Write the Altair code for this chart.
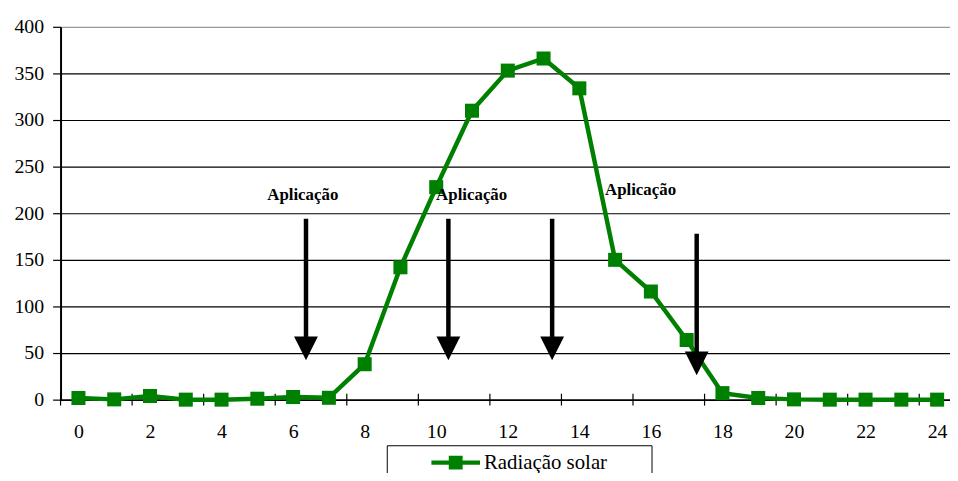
import altair as alt
import pandas as pd

# ---- data ----
horas = list(range(25))
radiacao = [1.8, 0.3, 3.9, 0, 0, 1, 2.8, 2, 38, 142, 228, 310, 353, 366, 334,
            150, 116, 64, 7, 1.8, 0.3, 0, 0, 0, 0]
serie = "Radiação solar"

x_label_values = list(range(0, 25, 2))
x_tick_marks = [-0.5 + 2 * i for i in range(13)]
y_values = list(range(0, 401, 50))

seta_x = [6.36, 10.34, 13.24, 17.28]
seta_topo = [194, 194, 194, 178]
seta_ponta = [55, 55, 55, 39]

rotulo_x = [6.27, 10.99, 15.71]
rotulo_y = [219, 219, 225]
rotulo_texto = ["Aplicação", "Aplicação", "Aplicação"]

FONT = "'Liberation Serif', 'Times New Roman', serif"
GREEN = "#008000"

df = pd.DataFrame({"hora": horas, "rad": radiacao, "serie": [serie] * len(horas)})
df_ticks = pd.DataFrame({"x": x_tick_marks})
df_setas = pd.DataFrame({"x": seta_x, "topo": seta_topo, "ponta": seta_ponta})
df_rot = pd.DataFrame({"x": rotulo_x, "y": rotulo_y, "t": rotulo_texto})

xscale = alt.Scale(domain=[-0.5, 24.36], nice=False, zero=False)
yscale = alt.Scale(domain=[0, 400], nice=False)

x_axis = alt.Axis(values=x_label_values, ticks=False, grid=False, labelPadding=22,
                  labelFontSize=20, labelFont=FONT, labelColor="black",
                  domainColor="black", domainWidth=1.5, title=None)
y_axis = alt.Axis(values=y_values, tickSize=8, tickColor="black", tickWidth=1.2,
                  labelPadding=9, labelFontSize=20, labelFont=FONT, labelColor="black",
                  domainColor="black", domainWidth=2, grid=True,
                  gridColor={"condition": {"test": "datum.value === 400", "value": "#999999"},
                             "value": "black"},
                  gridWidth=1.2, title=None)

base = alt.Chart(df)

linha = base.mark_line(color=GREEN, strokeWidth=4.5).encode(
    x=alt.X("hora:Q", scale=xscale, axis=x_axis),
    y=alt.Y("rad:Q", scale=yscale, axis=y_axis),
)

# wide legend glyph: line with a square in the middle
legend_symbol = ("M-3.5,-0.3H-1V-1H1V-0.3H3.5V0.3H1V1H-1V0.3H-3.5Z")

pontos = base.mark_point(shape="square", filled=True, size=200, opacity=1).encode(
    x=alt.X("hora:Q", scale=xscale),
    y=alt.Y("rad:Q", scale=yscale),
    color=alt.Color("serie:N", scale=alt.Scale(range=[GREEN]),
                    legend=alt.Legend(orient="none", legendX=329, legendY=422,
                                      title="\u00a0", titleOrient="right", titlePadding=38,
                                      titleFontSize=8,
                                      padding=7, strokeColor="black", symbolType=legend_symbol,
                                      symbolSize=196, symbolOffset=52, symbolStrokeWidth=0,
                                      symbolFillColor=GREEN,
                                      labelFont=FONT, labelFontSize=21, labelColor="black",
                                      labelOffset=18)),
)

ticks = alt.Chart(df_ticks).mark_rule(color="black", strokeWidth=1.2).encode(
    x=alt.X("x:Q", scale=xscale),
    y=alt.value(370),
    y2=alt.value(382),
)

setas = alt.Chart(df_setas).mark_rule(color="black", strokeWidth=4.5).encode(
    x=alt.X("x:Q", scale=xscale),
    y=alt.Y("topo:Q", scale=yscale),
    y2="ponta:Q",
)

pontas = alt.Chart(df_setas).mark_point(shape="M-1,-1L1,-1L0,1Z", size=576, filled=True,
                                        color="black", opacity=1).encode(
    x=alt.X("x:Q", scale=xscale),
    y=alt.Y("ponta:Q", scale=yscale),
)

rotulos = alt.Chart(df_rot).mark_text(font=FONT, fontWeight="bold", fontSize=17,
                                      color="black").encode(
    x=alt.X("x:Q", scale=xscale),
    y=alt.Y("y:Q", scale=yscale),
    text="t:N",
)

chart = alt.layer(ticks, linha, pontos, setas, pontas, rotulos).properties(
    width=897, height=376,
    autosize=alt.AutoSizeParams(type="none"),
    padding={"left": 53, "top": 17, "right": 0, "bottom": 72},
    background="white",
).configure_view(stroke=None).configure_axis(
    labelFont=FONT
).configure_legend(labelFont=FONT)

chart.save("out.html", embed_options={"renderer": "svg", "actions": False})
